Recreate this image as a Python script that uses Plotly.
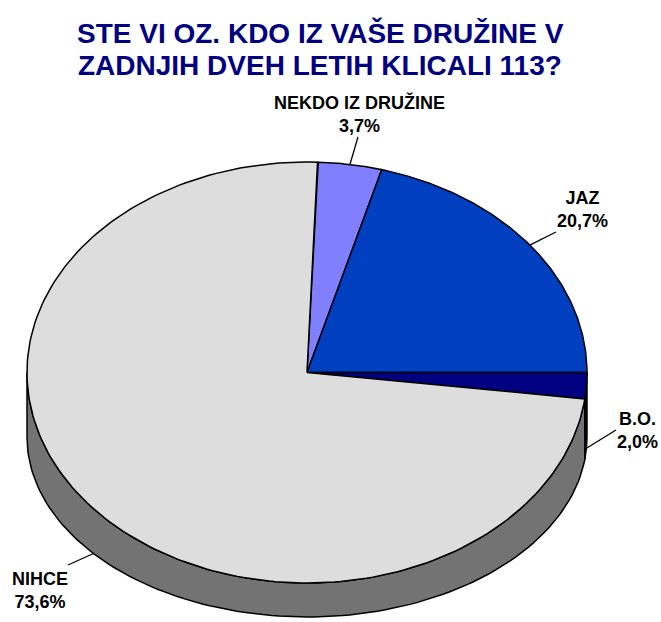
import numpy as np
import plotly.graph_objects as go

# data
labels = ["NEKDO IZ DRUŽINE", "JAZ", "B.O.", "NIHCE"]
values = [3.7, 20.7, 2.0, 73.6]
colors = ["#8080FF", "#0040C0", "#000080", "#DDDDDD"]
side_colors = ["#404080", "#002060", "#000040", "#737373"]
title_lines = ["STE VI OZ. KDO IZ VAŠE DRUŽINE V", "ZADNJIH DVEH LETIH KLICALI 113?"]

# label text centres and leader-line ends next to the text
label_pos = [(359, 114), (582, 209), (637, 430), (40, 590)]
leader_end = [(358, 137), (556, 232), (616, 430), (68, 565)]

W, H = 661, 622
# 3D pie geometry (top face ellipse + bottom outline ellipse)
CX, CY, RX, RY = 307, 372.5, 280, 210.5
BCY, BRY = 437, 180
START = 87.84  # first slice starts here, going clockwise

total = sum(values)


def top_pt(t):
    r = np.radians(t)
    return CX + RX * np.cos(r), CY - RY * np.sin(r)


def bot_pt(t):
    r = np.radians(t)
    return CX + RX * np.cos(r), BCY - BRY * np.sin(r)


fig = go.Figure()

# slice angle ranges
spans = []
a0 = START
for v in values:
    a1 = a0 - v / total * 360
    spans.append((a0, a1))
    a0 = a1

# sides first (only the front half of the pie is visible)
for (a0, a1), sc in zip(spans, side_colors):
    hi, lo = min(a0, 0), max(a1, -180)
    if lo >= hi:
        continue
    t = np.linspace(hi, lo, 120)
    xt, yt = top_pt(t)
    xb, yb = bot_pt(t[::-1])
    xs = np.concatenate([xt, xb, xt[:1]])
    ys = np.concatenate([yt, yb, yt[:1]])
    fig.add_trace(go.Scatter(x=xs, y=ys, mode="lines", fill="toself",
                             fillcolor=sc, line=dict(color="black", width=1.5),
                             hoverinfo="skip", showlegend=False))

# top faces
for (a0, a1), c, lab in zip(spans, colors, labels):
    t = np.linspace(a0, a1, 200)
    xt, yt = top_pt(t)
    xs = np.concatenate([[CX], xt, [CX]])
    ys = np.concatenate([[CY], yt, [CY]])
    fig.add_trace(go.Scatter(x=xs, y=ys, mode="lines", fill="toself",
                             fillcolor=c, line=dict(color="black", width=1.5),
                             name=lab, hoverinfo="skip", showlegend=False))

# labels + leader lines
annotations = []
for (a0, a1), lab, v, lp, le in zip(spans, labels, values, label_pos, leader_end):
    mid = (a0 + a1) / 2
    if np.sin(np.radians(mid)) >= 0:
        ax_, ay_ = top_pt(mid)
    else:
        ax_, ay_ = bot_pt(mid)
    fig.add_trace(go.Scatter(x=[le[0], ax_], y=[le[1], ay_], mode="lines",
                             line=dict(color="black", width=1.3),
                             hoverinfo="skip", showlegend=False))
    txt = f"{v:.1f}%".replace(".", ",")
    annotations.append(dict(x=lp[0], y=lp[1], xref="x", yref="y",
                            text=f"{lab}<br>{txt}", showarrow=False,
                            xanchor="center", yanchor="middle",
                            font=dict(family="Liberation Sans, Arial", size=18,
                                      color="black", weight="bold")))

for i, line in enumerate(title_lines):
    annotations.append(dict(x=320, y=32.5 + i * 32.5, xref="x", yref="y",
                            text=line, showarrow=False,
                            xanchor="center", yanchor="middle",
                            font=dict(family="Liberation Sans, Arial", size=28,
                                      color="#000080", weight="bold")))

fig.update_layout(
    width=W, height=H,
    margin=dict(l=0, r=0, t=0, b=0),
    paper_bgcolor="white", plot_bgcolor="white",
    xaxis=dict(range=[0, W], visible=False, fixedrange=True),
    yaxis=dict(range=[H, 0], visible=False, fixedrange=True),
    annotations=annotations,
)

fig.write_html("out.html", config={"displayModeBar": False},
               post_script="document.body.style.margin='0';")
